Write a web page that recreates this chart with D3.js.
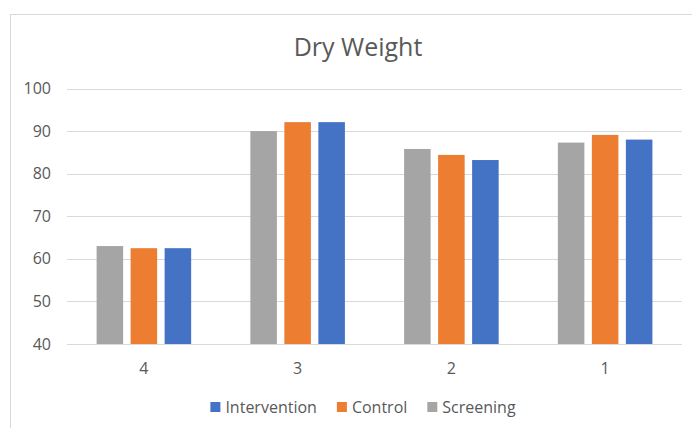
<html>
<head>
<style>
  body { margin: 0; background: #fff; }
  text { font-family: "Open Sans", sans-serif; fill: #595959; }
</style>
<script src="https://cdn.jsdelivr.net/npm/d3@7/dist/d3.min.js"></script>
</head>
<body>
<svg id="chart"></svg>
<script>
  // values
  let categories = ["4", "3", "2", "1"]
  let seriesNames = ["Screening", "Control", "Intervention"]
  let screening = [63.0, 90.0, 85.8, 87.3]
  let control = [62.5, 92.1, 84.4, 89.1]
  let intervention = [62.5, 92.1, 83.2, 88.0]
  let yTicks = [40, 50, 60, 70, 80, 90, 100]
  let legendOrder = ["Intervention", "Control", "Screening"]

  let colors = { Screening: "#a5a5a5", Control: "#ed7d31", Intervention: "#4472c4" }
  let values = { Screening: screening, Control: control, Intervention: intervention }

  let width = 692, height = 428
  let margin = { top: 88.5, bottom: 84, left: 67, right: 10 }

  let svg = d3.select("#chart").attr("width", width).attr("height", height)

  // chart area border
  svg.append("rect")
    .attr("x", 10.5).attr("y", 14.5)
    .attr("width", 720).attr("height", 440)
    .attr("fill", "none").attr("stroke", "#d9d9d9")

  svg.append("text")
    .attr("x", 358).attr("y", 56)
    .attr("text-anchor", "middle")
    .style("font-size", "25px")
    .text("Dry Weight")

  let xScale = d3.scaleBand()
    .domain(categories)
    .range([margin.left, width - margin.right])
    .paddingInner(0.385)
    .paddingOuter(0.385 / 2)

  let xInner = d3.scaleBand()
    .domain(seriesNames)
    .range([0, xScale.bandwidth()])
    .paddingInner(0.22)

  let yScale = d3.scaleLinear()
    .domain([40, 100])
    .range([height - margin.bottom, margin.top])

  // gridlines
  svg.append("g")
    .selectAll("line")
    .data(yTicks)
    .enter().append("line")
    .attr("x1", margin.left).attr("x2", width - margin.right)
    .attr("y1", d => Math.round(yScale(d)) + 0.5)
    .attr("y2", d => Math.round(yScale(d)) + 0.5)
    .attr("stroke", "#d9d9d9")

  // y labels
  svg.append("g")
    .selectAll("text")
    .data(yTicks)
    .enter().append("text")
    .attr("x", 51)
    .attr("y", d => yScale(d))
    .attr("dy", "0.35em")
    .attr("text-anchor", "end")
    .style("font-size", "16px")
    .text(d => d)

  // bars
  let groups = svg.append("g")
    .selectAll("g")
    .data(categories)
    .enter().append("g")
    .attr("transform", d => `translate(${xScale(d)},0)`)

  groups.selectAll("rect")
    .data((c, i) => seriesNames.map(s => ({ s, v: values[s][i] })))
    .enter().append("rect")
    .attr("x", d => xInner(d.s))
    .attr("width", xInner.bandwidth())
    .attr("y", d => yScale(d.v))
    .attr("height", d => yScale(40) - yScale(d.v))
    .attr("fill", d => colors[d.s])

  // x labels
  svg.append("g")
    .selectAll("text")
    .data(categories)
    .enter().append("text")
    .attr("x", d => xScale(d) + xScale.bandwidth() / 2)
    .attr("y", 368)
    .attr("dy", "0.35em")
    .attr("text-anchor", "middle")
    .style("font-size", "16px")
    .text(d => d)

  // legend
  let legend = svg.append("g")
  let lx = 0
  legendOrder.forEach((name, i) => {
    let item = legend.append("g").attr("transform", `translate(${lx},0)`)
    item.append("rect")
      .attr("x", 0).attr("y", -5)
      .attr("width", 10).attr("height", 10)
      .attr("fill", colors[name])
    let t = item.append("text")
      .attr("x", 15).attr("y", 0).attr("dy", "0.35em")
      .style("font-size", "16px")
      .text(name)
    lx += 15 + t.node().getComputedTextLength() + 20
  })
  let legendWidth = lx - 20
  legend.attr("transform", `translate(${363 - legendWidth / 2},407)`)
</script>
</body>
</html>
